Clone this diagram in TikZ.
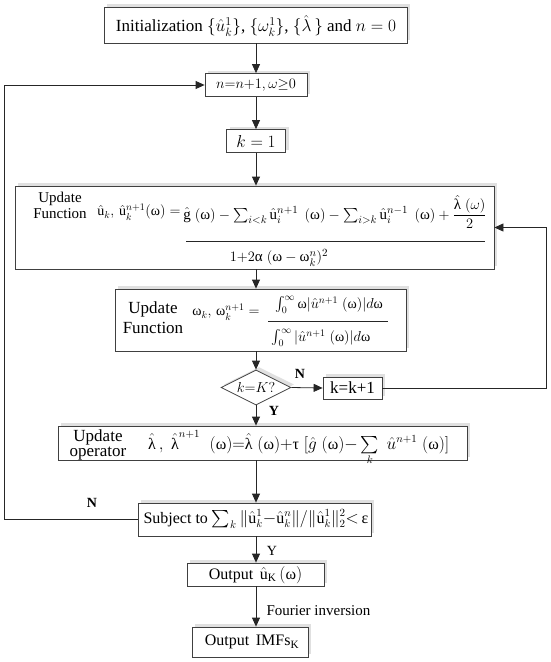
\documentclass[tikz,border=0pt]{standalone}
\usepackage{amsmath}
\usepackage{fontspec}
\setmainfont{Liberation Serif}
\usetikzlibrary{arrows.meta,shapes.geometric,shadows}
\newcommand{\myom}{\text{ω}}
\newcommand{\myal}{\text{α}}
\newcommand{\mylam}{\hat{\text{λ}}}
\newcommand{\mytau}{\text{τ}}
\newcommand{\myeps}{\text{ε}}
\newcommand{\myu}{\hat{\mathrm{u}}}
\tikzset{
  every node/.style={font=\fontsize{17}{19}\selectfont},
  box/.style={draw=black!75, line width=0.8pt, fill=white, inner sep=0pt,
    drop shadow={shadow xshift=3pt, shadow yshift=3pt, fill=black!12, opacity=1}},
  txt/.style={inner sep=0pt, align=center},
  bar/.style={draw=black!85, line width=0.7pt},
  arr/.style={draw=black!85, line width=0.8pt, -{Triangle[length=9pt,width=8pt]}},
  lbl/.style={font=\fontsize{14}{16}\selectfont\bfseries},
}
\begin{document}
\begin{tikzpicture}[x=1pt,y=-1pt]
\useasboundingbox (0,0) rectangle (550,662);
\coordinate (col) at (256,0);
% init
\node[box, minimum width=303, minimum height=36] (init) at (255.5,25) {};
\node[txt] (initt) at (256,26)
  {Initialization $\{\hat{u}^{1}_{k}\}$, $\{\omega^{1}_{k}\}$, $\{\hat{\lambda}\,\}$ and $n=0$};
% n box
\node[box, minimum width=102, minimum height=23] (nbox) at (256,85) {};
\node[txt, font=\fontsize{15}{17}\selectfont] (nboxt) at (256,85) {$n{=}n{+}1,\omega{\geq}0$};
% k=1
\node[box, minimum width=59, minimum height=23] (k1) at (256,141) {};
\node[txt, font=\fontsize{16}{18}\selectfont] (k1t) at (256,141) {$k=1$};
% update function (u)
\node[box, minimum width=479, minimum height=83] (upd) at (254.5,227.5) {};
\node[txt, font=\fontsize{15}{16}\selectfont] (updl) at (60,205) {Update\\Function};
\node[txt, font=\fontsize{14}{16}\selectfont] (updlhs) at (139,212)
  {$\myu_{k},\,\myu_{k}^{n+1}(\myom)=$};
\node[txt, font=\fontsize{15}{16}\selectfont] (updnum) at (335,212)
  {$\hat{\mathrm{g}}\;(\myom)-\sum_{i<k}\myu_{i}^{n+1}\;\,(\myom)-\sum_{i>k}\myu_{i}^{n-1}\;\,(\myom)+\dfrac{\mylam\;(\omega)}{2}$};
\draw[bar] (186,241) -- (485,241);
\node[txt, font=\fontsize{15}{16}\selectfont] (updden) at (279,258)
  {$1{+}2\myal\;(\myom-\myom_{k}^{n})^{2}$};
% update function (omega)
\node[box, minimum width=291, minimum height=62] (omg) at (260.5,320) {};
\node[txt, font=\fontsize{17}{20}\selectfont] (omgl) at (153,318) {Update\\Function};
\node[txt, font=\fontsize{14}{16}\selectfont] (omglhs) at (226,312)
  {$\myom_{k},\,\myom_{k}^{n+1}=$};
\node[txt, font=\fontsize{14}{16}\selectfont] (omgnum) at (329,305)
  {$\int_{0}^{\infty}\myom|\hat{u}^{n+1}\;(\myom)|d\myom$};
\draw[bar] (268,321) -- (388,321);
\node[txt, font=\fontsize{14}{16}\selectfont] (omgden) at (321,338)
  {$\int_{0}^{\infty}|\hat{u}^{n+1}\;(\myom)|d\myom$};
% diamond
\node[draw=black!75, line width=0.8pt, fill=white, diamond, aspect=2, minimum width=70, minimum height=35, inner sep=0pt,
  drop shadow={shadow xshift=3pt, shadow yshift=3pt, fill=black!12, opacity=1}] (dia) at (256,387.5) {};
\node[txt, font=\fontsize{15}{17}\selectfont] (diat) at (256,387.5) {$k{=}K?$};
% k=k+1
\node[box, minimum width=59, minimum height=22] (kk) at (352.5,388) {};
\node[txt] (kkt) at (352.5,388) {k=k+1};
% update operator
\node[box, minimum width=409, minimum height=34] (lam) at (262.5,443) {};
\node[txt, font=\fontsize{17}{15}\selectfont] (laml) at (98,445) {Update\\operator};
\node[txt, anchor=base west, font=\fontsize{16}{16}\selectfont] (lamf) at (148,449)
  {$\mylam\,,\;\mylam^{n+1}\;\;(\myom){=}\mylam\;(\myom){+}\mytau\;[\hat{g}\;(\myom){-}\sum\limits_{k}\;\hat{u}^{n+1}\;(\myom)]$};
% subject
\node[box, minimum width=233, minimum height=33] (subj) at (254.5,519.5) {};
\node[txt, font=\fontsize{16}{18}\selectfont] (subjt) at (256,519)
  {Subject to $\sum_{k}\|\myu_{k}^{1}{-}\myu_{k}^{n}\|/\|\myu_{k}^{1}\|_{2}^{2}{<}\,\myeps$};
% outputs
\node[box, minimum width=137, minimum height=23] (out) at (255.5,574.5) {};
\node[txt, font=\fontsize{16}{18}\selectfont] (outt) at (255.5,575) {Output \,$\myu_{\mathrm{K}}\,(\myom)$};
\node[box, minimum width=116, minimum height=30] (imf) at (250,642) {};
\node[txt, font=\fontsize{16}{18}\selectfont] (imft) at (252,642) {Output\, IMFs$_{\mathrm{K}}$};

\draw[arr] (init.south -| col) -- (nbox.north -| col);
\draw[arr] (nbox.south -| col) -- (k1.north -| col);
\draw[arr] (k1.south -| col) -- (upd.north -| col);
\draw[arr] (upd.south -| col) -- (omg.north -| col);
\draw[arr] (omg.south -| col) -- (dia.north);
\draw[arr] (dia.east) -- (kk.west);
\draw[arr] (kk.east) -- ++(164,0) |- (upd.east);
\draw[arr] (dia.south) -- (lam.north -| col);
\draw[arr] (lam.south -| col) -- (subj.north -| col);
\draw[arr] (subj.west) -- ++(-133,0) |- (nbox.west);
\draw[arr] (subj.south -| col) -- (out.north -| col);
\draw[arr] (out.south -| col) -- (imf.north -| col);

\node[lbl] (nl1) at (300,374) {N};
\node[lbl] (yl1) at (274,411) {Y};
\node[lbl] (nl2) at (92,503) {N};
\node[font=\fontsize{14}{16}\selectfont] (yl2) at (272,551) {Y};
\node[font=\fontsize{15}{17}\selectfont, anchor=west] (fi) at (263,611) {Fourier inversion};
\end{tikzpicture}
\end{document}
